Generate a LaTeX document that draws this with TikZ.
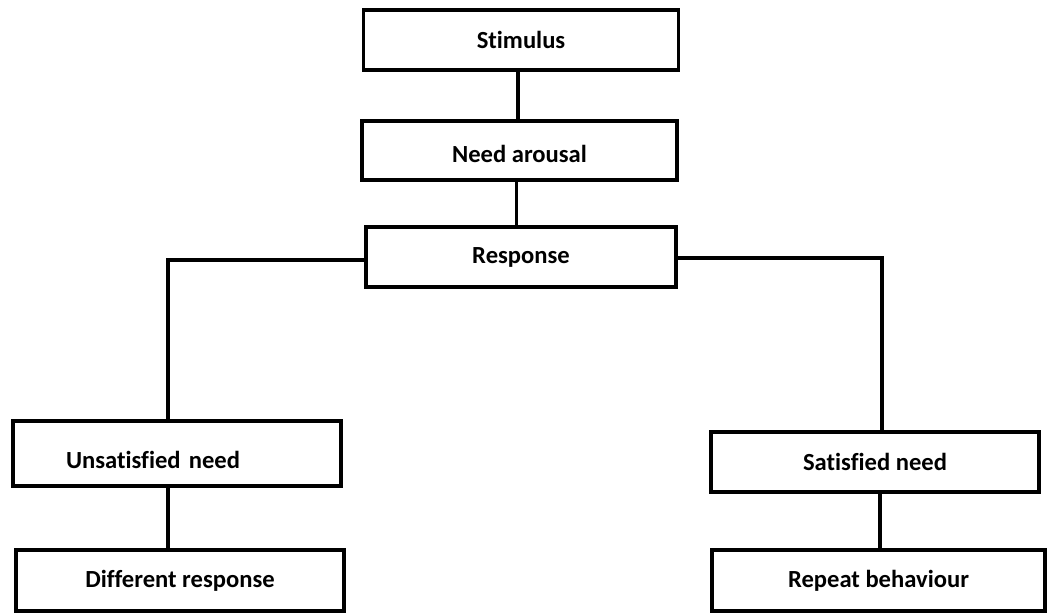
\documentclass[tikz,border=0pt]{standalone}
\usepackage{fontspec}
\setmainfont{Carlito}[Ligatures={NoCommon}]

\tikzset{
    box/.style={draw, line width=1.9pt, minimum width=6.3cm, minimum height=1.2cm,
        font=\fontsize{14}{16}\selectfont\bfseries},
    link/.style={line width=1.9pt}
}

\begin{document}
\begin{tikzpicture}
    \useasboundingbox (0,0) rectangle (20.94,-12.26);

    % Top column
    \node[box] (stim) at (10.42,-0.80) {Stimulus};
    \node[box, minimum height=1.18cm, text height=0.5cm] (need) at (10.39,-3.01) {Need arousal};
    \node[box, minimum width=6.2cm] (resp) at (10.42,-5.14) {Response};

    % Left branch
    \node[box, minimum width=6.56cm, minimum height=1.3cm, text width=4.44cm,
        inner xsep=1.06cm, align=left, text height=0.6cm] (unsat) at (3.54,-9.07) {Unsatisfied need};
    \node[box, minimum width=6.56cm, minimum height=1.22cm] (diff) at (3.60,-11.61) {Different response};

    % Right branch
    \node[box, minimum width=6.56cm] (sat) at (17.50,-9.24) {Satisfied need};
    \node[box, minimum width=6.66cm, minimum height=1.22cm] (rep) at (17.57,-11.61) {Repeat behaviour};

    % Connectors
    \draw[link] ([xshift=-0.06cm]stim.south) -- ([xshift=-0.06cm]stim.south |- need.north);
    \draw[link] ([xshift=-0.06cm]need.south) -- ([xshift=-0.06cm]need.south |- resp.north);
    \draw[link] ([yshift=-0.06cm]resp.west) -| ([xshift=-0.18cm]unsat.north);
    \draw[link] ([yshift=-0.02cm]resp.east) -| ([xshift=0.14cm]sat.north);
    \draw[link] ([xshift=-0.18cm]unsat.south) -- ([xshift=-0.18cm]unsat.south |- diff.north);
    \draw[link] ([xshift=0.10cm]sat.south) -- ([xshift=0.10cm]sat.south |- rep.north);
\end{tikzpicture}
\end{document}
